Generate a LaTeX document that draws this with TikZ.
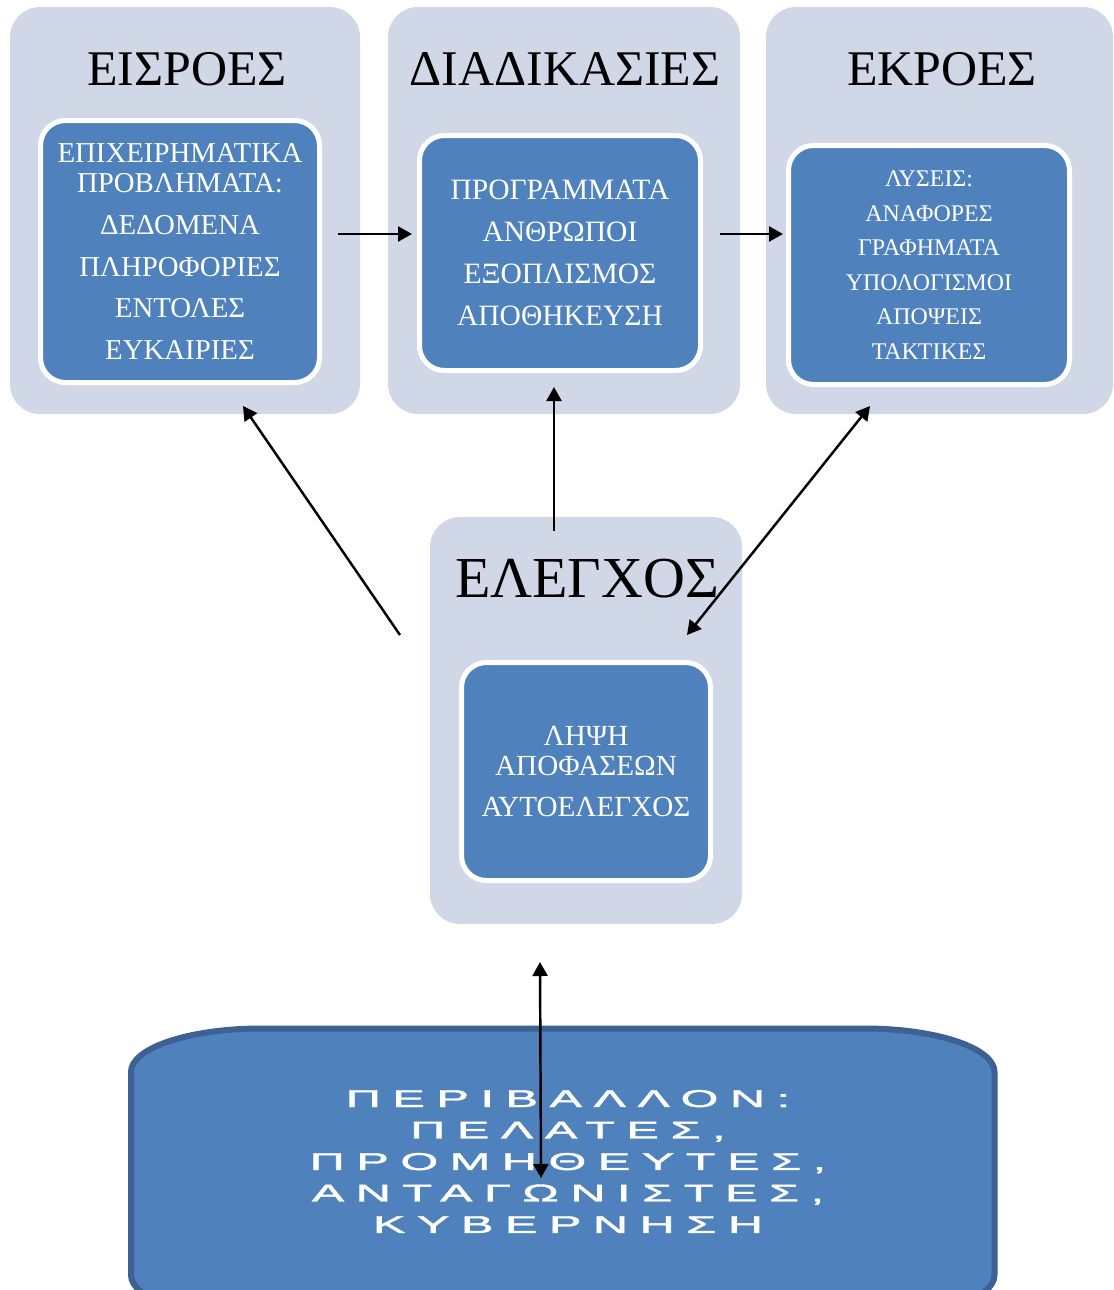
\documentclass[tikz,border=0pt]{standalone}
\usepackage{fontspec}
\setmainfont{Liberation Serif}
\newfontfamily\envfont[LetterSpace=24,FakeBold=1.5]{Liberation Sans}
\usetikzlibrary{arrows.meta}
\definecolor{ccpale}{RGB}{208,216,232}
\definecolor{ccblue}{RGB}{79,129,189}
\definecolor{ccdark}{RGB}{60,97,146}
\newcommand{\etire}[1]{\scalebox{2.0}[1]{#1}}

\begin{document}
\begin{tikzpicture}

  \useasboundingbox (0,0) rectangle (11.13,-12.90);

  % Style des flèches et des boîtes
  \tikzstyle{fleche} = [-{Triangle[width=1.5mm,length=1.4mm]}, line width=0.7pt]
  \tikzstyle{doublefleche} = [{Triangle[width=1.5mm,length=1.4mm]}-{Triangle[width=1.5mm,length=1.4mm]}, line width=0.7pt]
  \tikzstyle{cadre} = [rectangle, rounded corners=3mm, fill=ccpale, inner sep=0pt]
  \tikzstyle{boite} = [rectangle, rounded corners=2.5mm, fill=ccblue, draw=white, line width=0.5mm, text=white, align=center, inner sep=0pt]
  \tikzstyle{titre} = [anchor=base, font=\fontsize{14.2}{17}\selectfont]

  % Cadres clairs
  \node[cadre, minimum width=3.50cm, minimum height=4.07cm] (eisroes) at (1.85,-2.105) {};
  \node[cadre, minimum width=3.52cm, minimum height=4.07cm] (diadikasies) at (5.64,-2.105) {};
  \node[cadre, minimum width=3.47cm, minimum height=4.07cm] (ekroes) at (9.395,-2.105) {};
  \node[cadre, minimum width=3.12cm, minimum height=4.07cm] (elegxos) at (5.86,-7.205) {};

  % Titres
  \node[titre] (t-eisroes) at (1.87,-0.85) {ΕΙΣΡΟΕΣ};
  \node[titre] (t-diadikasies) at (5.65,-0.85) {ΔΙΑΔΙΚΑΣΙΕΣ};
  \node[titre] (t-ekroes) at (9.42,-0.85) {ΕΚΡΟΕΣ};
  \node[titre, font=\fontsize{16.5}{20}\selectfont] (t-elegxos) at (5.87,-5.97) {ΕΛΕΓΧΟΣ};

  % Boîtes bleues
  \node[boite, minimum width=2.79cm, minimum height=2.62cm, font=\fontsize{8.2}{8.54}\selectfont] (in) at (1.80,-2.515)
    {ΕΠΙΧΕΙΡΗΜΑΤΙΚΑ\\ΠΡΟΒΛΗΜΑΤΑ:\\[3.4pt]ΔΕΔΟΜΕΝΑ\\[3.4pt]ΠΛΗΡΟΦΟΡΙΕΣ\\[3.4pt]ΕΝΤΟΛΕΣ\\[3.4pt]ΕΥΚΑΙΡΙΕΣ};
  \node[boite, minimum width=2.81cm, minimum height=2.35cm, font=\fontsize{8.4}{11.95}\selectfont] (proc) at (5.60,-2.53)
    {ΠΡΟΓΡΑΜΜΑΤΑ\\ΑΝΘΡΩΠΟΙ\\ΕΞΟΠΛΙΣΜΟΣ\\ΑΠΟΘΗΚΕΥΣΗ};
  \node[boite, minimum width=2.81cm, minimum height=2.39cm, font=\fontsize{6.8}{9.8}\selectfont] (out) at (9.29,-2.65)
    {ΛΥΣΕΙΣ:\\ΑΝΑΦΟΡΕΣ\\ΓΡΑΦΗΜΑΤΑ\\ΥΠΟΛΟΓΙΣΜΟΙ\\ΑΠΟΨΕΙΣ\\ΤΑΚΤΙΚΕΣ};
  \node[boite, minimum width=2.49cm, minimum height=2.18cm, font=\fontsize{8.3}{8.54}\selectfont] (ctrl) at (5.86,-7.715)
    {ΛΗΨΗ\\ΑΠΟΦΑΣΕΩΝ\\[3.4pt]ΑΥΤΟΕΛΕΓΧΟΣ};

  % Environnement
  \draw[line width=0.6mm, draw=ccdark, fill=ccblue] (1.31,-10.72) arc[start angle=180, end angle=90, x radius=1.3, y radius=0.435]
    -- (8.645,-10.285) arc[start angle=90, end angle=0, x radius=1.3, y radius=0.435]
    -- (9.945,-12.75) arc[start angle=0, end angle=-90, x radius=1.3, y radius=0.435]
    -- (2.61,-13.185) arc[start angle=-90, end angle=-180, x radius=1.3, y radius=0.435] -- cycle;
  \node[text=white, align=center, font=\envfont\fontsize{6.9}{8.96}\selectfont] (env) at (5.68,-11.615)
    {\etire{ΠΕΡΙΒΑΛΛΟΝ:}\\\etire{ΠΕΛΑΤΕΣ,}\\\etire{ΠΡΟΜΗΘΕΥΤΕΣ,}\\\etire{ΑΝΤΑΓΩΝΙΣΤΕΣ,}\\\etire{ΚΥΒΕΡΝΗΣΗ}};

  % Extrémités des flèches
  \coordinate (in-e) at (3.38,-2.34);
  \coordinate (proc-w) at (4.12,-2.34);
  \coordinate (proc-e) at (7.20,-2.34);
  \coordinate (out-w) at (7.83,-2.34);
  \coordinate (ctrl-nw) at (4.00,-6.35);
  \coordinate (eis-s) at (2.43,-4.06);
  \coordinate (ctrl-n) at (5.54,-5.31);
  \coordinate (diad-s) at (5.54,-3.87);
  \coordinate (ekr-s) at (8.70,-4.06);
  \coordinate (ctrl-ne) at (6.87,-6.35);
  \coordinate (ctrl-s) at (5.40,-9.62);
  \coordinate (env-c) at (5.41,-11.78);

  % Flèches
  \draw[fleche] (in-e) -- (proc-w);
  \draw[fleche] (proc-e) -- (out-w);
  \draw[fleche] (ctrl-nw) -- (eis-s);
  \draw[fleche] (ctrl-n) -- (diad-s);
  \draw[doublefleche] (ekr-s) -- (ctrl-ne);
  \draw[doublefleche] (ctrl-s) -- (env-c);

\end{tikzpicture}
\end{document}
